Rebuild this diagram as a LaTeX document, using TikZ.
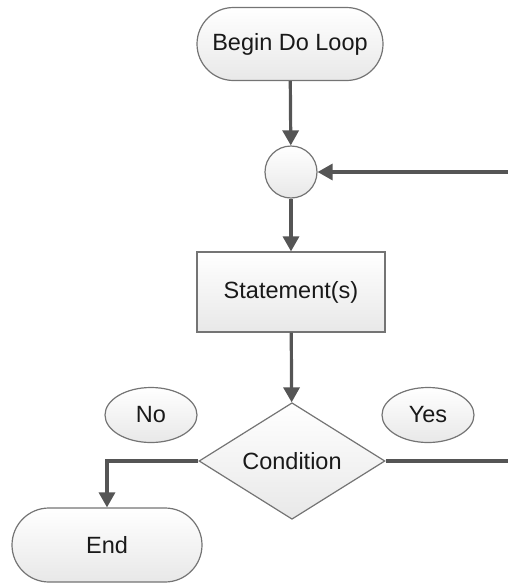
\documentclass[tikz,border=0pt]{standalone}
\usepackage{fontspec}
\setmainfont{Liberation Sans}
\usetikzlibrary{arrows.meta,shapes.geometric,shapes.misc}
\definecolor{edgegray}{HTML}{747474}
\definecolor{arrowgray}{HTML}{555555}
\begin{document}
\begin{tikzpicture}[x=1pt,y=-1pt,
  every node/.style={font=\fontsize{23.5}{27}\selectfont, text=black!90},
  shapebase/.style={draw=edgegray, line width=1.2pt, top color=white, bottom color=black!9, inner sep=0pt},
  terminal/.style={shapebase, rounded rectangle, minimum width=186pt, minimum height=73pt},
  process/.style={shapebase, rectangle, minimum width=188pt, minimum height=80pt},
  decision/.style={shapebase, diamond, minimum width=186pt, minimum height=112pt},
  junction/.style={shapebase, circle, minimum size=52pt},
  label/.style={shapebase, ellipse, minimum width=92pt, minimum height=55pt},
  flow/.style={draw=arrowgray, line width=3.2pt, -{Triangle[length=15pt,width=16pt]}},
  plain/.style={draw=arrowgray, line width=3.2pt}
]
\useasboundingbox (0,0) rectangle (508,584);
\node[terminal] (begin) at (290,44) {Begin Do Loop};
\node[junction] (join) at (291,172) {};
\node[process] (stmt) at (291,292) {Statement(s)};
\node[decision] (cond) at (292,461) {Condition};
\node[label] (no) at (151,415) {No};
\node[label] (yes) at (428,415) {Yes};
\node[terminal, minimum width=190pt, minimum height=74pt] (end) at (107,545) {End};
\coordinate (rtop) at (508,172);
\coordinate (rbot) at (508,461);
\draw[flow] (begin) -- (join);
\draw[flow] (join) -- (stmt);
\draw[flow] (stmt) -- (cond);
\draw[flow] (rtop) -- (join);
\draw[plain] (cond.east) -- (rbot);
\draw[flow] (cond.west) -| (end.north);
\end{tikzpicture}
\end{document}
